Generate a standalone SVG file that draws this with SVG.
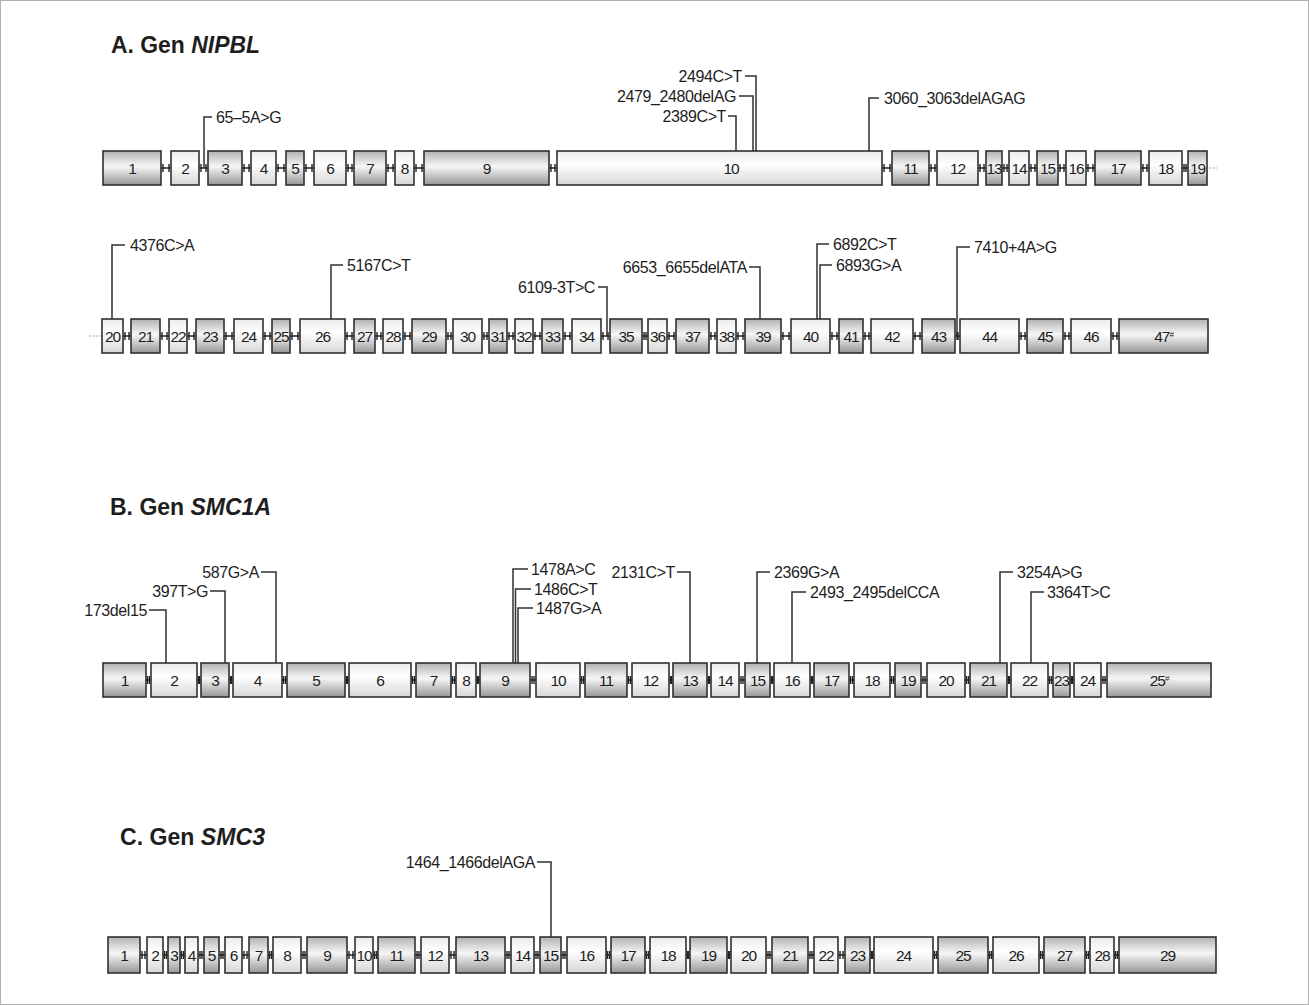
<svg xmlns="http://www.w3.org/2000/svg" width="1309" height="1005" viewBox="0 0 1309 1005">
<defs>
<linearGradient id="gd" x1="0" y1="0" x2="0" y2="1">
<stop offset="0" stop-color="#b2b2b2"/><stop offset="0.45" stop-color="#f6f6f6"/><stop offset="1" stop-color="#979797"/>
</linearGradient>
<linearGradient id="gl" x1="0" y1="0" x2="0" y2="1">
<stop offset="0" stop-color="#ebebeb"/><stop offset="0.4" stop-color="#ffffff"/><stop offset="1" stop-color="#d6d6d6"/>
</linearGradient>
</defs>
<style>
text{font-family:"Liberation Sans",Arial,sans-serif;fill:#1e1e1e}
.ex rect{stroke:#303030;stroke-width:1.6}
.d rect{fill:url(#gd)}
.l rect{fill:url(#gl)}
.ex text{font-size:15.5px;text-anchor:middle;letter-spacing:-1px}
.m text{font-size:16px;letter-spacing:-0.4px}
.m .e{text-anchor:end}
.t{font-size:24px;font-weight:bold}
.ln{stroke:#303030;stroke-width:1.5;fill:none}
.in{stroke:#222;stroke-width:1.4;fill:none}
.cont{stroke:#aaa;stroke-width:1;stroke-dasharray:2 1.5;fill:none}
</style>
<rect x="0.5" y="0.5" width="1308" height="1004" fill="#fff" stroke="#b0b0b0" stroke-width="1"/>

<g id="titles">
<text id="title-a" class="t" x="111" y="53" textLength="149" lengthAdjust="spacingAndGlyphs">A. Gen <tspan font-style="italic">NIPBL</tspan></text>
<text id="title-b" class="t" x="110" y="515" textLength="161" lengthAdjust="spacingAndGlyphs">B. Gen <tspan font-style="italic">SMC1A</tspan></text>
<text id="title-c" class="t" x="120" y="845" textLength="145" lengthAdjust="spacingAndGlyphs">C. Gen <tspan font-style="italic">SMC3</tspan></text>
</g>

<g id="connectors">
<path class="in" d="M161 168H171M163 164v8M169 164v8M199 168H208M201 164v8M206 164v8M242 168H251M244 164v8M249 164v8M276 168H286M278 164v8M284 164v8M304 168H314M306 164v8M312 164v8M346 168H354M348 164v8M352 164v8M386 168H395M388 164v8M393 164v8M414 168H424M416 164v8M422 164v8M549 168H557M551 164v8M555 164v8M882 168H892M884 164v8M890 164v8M929 168H937M931 164v8M935 164v8M978 168H986M980 164v8M984 164v8M1002 168H1009M1004 164v8M1007 164v8M1029 168H1037M1031 164v8M1035 164v8M1058 168H1066M1060 164v8M1064 164v8M1086 168H1095M1088 164v8M1093 164v8M1141 168H1149M1143 164v8M1147 164v8M1182 168H1188M1184 164v8M1186 164v8"/>
<path class="cont" d="M1209 168H1217M89 336H101"/>
<path class="in" d="M123 336H131M125 332v8M129 332v8M160 336H169M162 332v8M167 332v8M187 336H196M189 332v8M194 332v8M224 336H234M226 332v8M232 332v8M263 336H272M265 332v8M270 332v8M290 336H300M292 332v8M298 332v8M345 336H354M347 332v8M352 332v8M375 336H383M377 332v8M381 332v8M403 336H412M405 332v8M410 332v8M446 336H453M448 332v8M451 332v8M482 336H489M484 332v8M487 332v8M507 336H515M509 332v8M513 332v8M533 336H542M535 332v8M540 332v8M563 336H572M565 332v8M570 332v8M601 336H610M603 332v8M608 332v8M642 336H648M644 332v8M646 332v8M667 336H676M669 332v8M674 332v8M709 336H717M711 332v8M715 332v8M736 336H745M738 332v8M743 332v8M781 336H791M783 332v8M789 332v8M830 336H839M832 332v8M837 332v8M863 336H871M865 332v8M869 332v8M913 336H922M915 332v8M920 332v8M955 336H960M957 332v8M958 332v8M1019 336H1027M1021 332v8M1025 332v8M1063 336H1071M1065 332v8M1069 332v8M1111 336H1119M1113 332v8M1117 332v8"/>
<path class="in" d="M146 680H151M147.5 676v8M149.5 676v8M197 680H201M198.5 676v8M199.5 676v8M229 680H233M230.5 676v8M231.5 676v8M282 680H287M283.5 676v8M285.5 676v8M345 680H349M346.5 676v8M347.5 676v8M411 680H416M412.5 676v8M414.5 676v8M451 680H456M452.5 676v8M454.5 676v8M476 680H480M477.5 676v8M478.5 676v8M530 680H536M532 676v8M534 676v8M580 680H585M581.5 676v8M583.5 676v8M627 680H632M628.5 676v8M630.5 676v8M669 680H673M670.5 676v8M671.5 676v8M707 680H711M708.5 676v8M709.5 676v8M739 680H745M741 676v8M743 676v8M770 680H774M771.5 676v8M772.5 676v8M810 680H814M811.5 676v8M812.5 676v8M849 680H854M850.5 676v8M852.5 676v8M890 680H895M891.5 676v8M893.5 676v8M921 680H927M923 676v8M925 676v8M965 680H970M966.5 676v8M968.5 676v8M1007 680H1011M1008.5 676v8M1009.5 676v8M1048 680H1053M1049.5 676v8M1051.5 676v8M1070 680H1074M1071.5 676v8M1072.5 676v8M1101 680H1107M1103 676v8M1105 676v8"/>
<path class="in" d="M140 955H147M142 951v8M145 951v8M163 955H168M164.5 951v8M166.5 951v8M180 955H185M181.5 951v8M183.5 951v8M198 955H204M200 951v8M202 951v8M219 955H225M221 951v8M223 951v8M242 955H249M244 951v8M247 951v8M268 955H273M269.5 951v8M271.5 951v8M301 955H307M303 951v8M305 951v8M347 955H355M349 951v8M353 951v8M373 955H378M374.5 951v8M376.5 951v8M415 955H421M417 951v8M419 951v8M449 955H456M451 951v8M454 951v8M505 955H511M507 951v8M509 951v8M534 955H540M536 951v8M538 951v8M561 955H567M563 951v8M565 951v8M606 955H611M607.5 951v8M609.5 951v8M645 955H650M646.5 951v8M648.5 951v8M686 955H690M687.5 951v8M688.5 951v8M727 955H731M728.5 951v8M729.5 951v8M766 955H772M768 951v8M770 951v8M808 955H814M810 951v8M812 951v8M838 955H845M840 951v8M843 951v8M870 955H874M871.5 951v8M872.5 951v8M933 955H938M934.5 951v8M936.5 951v8M988 955H993M989.5 951v8M991.5 951v8M1039 955H1044M1040.5 951v8M1042.5 951v8M1085 955H1090M1086.5 951v8M1088.5 951v8M1114 955H1119M1115.5 951v8M1117.5 951v8"/>
<path class="ln" d="M212 117H204V168M745 76H756V151M739 96H753V151M728 116H736V151M879 98H869V151"/>
<path class="ln" d="M125 245H112V319M343 265H331V319M598 287H607V336M749 267H760V319M829 244H817V319M832 265H820V319M970 247H957V336"/>
<path class="ln" d="M149 610H166V663M210 591H225V663M261 572H276V663M528 569H513V663M531 589H515.5V663M533 608H518V663M677 572H690V663M770 572H757V663M806 592H792V663M1013 572H1000V663M1044 592H1031V663"/>
<path class="ln" d="M537 862H551V937"/>
</g>

<g id="mutations" class="m">
<g id="m-65-5AG"><text x="216" y="123">65–5A&gt;G</text></g>
<g id="m-2494CT"><text class="e" x="742" y="82">2494C&gt;T</text></g>
<g id="m-2479"><text class="e" x="736" y="102">2479_2480delAG</text></g>
<g id="m-2389CT"><text class="e" x="726" y="122">2389C&gt;T</text></g>
<g id="m-3060"><text x="884" y="104">3060_3063delAGAG</text></g>
<g id="m-4376CA"><text x="130" y="251">4376C&gt;A</text></g>
<g id="m-5167CT"><text x="347" y="271">5167C&gt;T</text></g>
<g id="m-6109"><text class="e" x="595" y="293">6109-3T&gt;C</text></g>
<g id="m-6653"><text class="e" x="747" y="273">6653_6655delATA</text></g>
<g id="m-6892CT"><text x="833" y="250">6892C&gt;T</text></g>
<g id="m-6893GA"><text x="836" y="271">6893G&gt;A</text></g>
<g id="m-7410"><text x="974" y="253">7410+4A&gt;G</text></g>
<g id="m-173del15"><text class="e" x="147" y="616">173del15</text></g>
<g id="m-397TG"><text class="e" x="208" y="597">397T&gt;G</text></g>
<g id="m-587GA"><text class="e" x="259" y="578">587G&gt;A</text></g>
<g id="m-1478AC"><text x="531" y="575">1478A&gt;C</text></g>
<g id="m-1486CT"><text x="534" y="595">1486C&gt;T</text></g>
<g id="m-1487GA"><text x="536" y="614">1487G&gt;A</text></g>
<g id="m-2131CT"><text class="e" x="675" y="578">2131C&gt;T</text></g>
<g id="m-2369GA"><text x="774" y="578">2369G&gt;A</text></g>
<g id="m-2493"><text x="810" y="598">2493_2495delCCA</text></g>
<g id="m-3254AG"><text x="1017" y="578">3254A&gt;G</text></g>
<g id="m-3364TC"><text x="1047" y="598">3364T&gt;C</text></g>
<g id="m-1464"><text class="e" x="535" y="868">1464_1466delAGA</text></g>
</g>

<g id="nipbl">
<g id="a1" class="ex d"><rect x="103" y="151" width="58" height="34"/><text x="132" y="173.5">1</text></g>
<g id="a2" class="ex l"><rect x="171" y="151" width="28" height="34"/><text x="185" y="173.5">2</text></g>
<g id="a3" class="ex d"><rect x="208" y="151" width="34" height="34"/><text x="225" y="173.5">3</text></g>
<g id="a4" class="ex l"><rect x="251" y="151" width="25" height="34"/><text x="263.5" y="173.5">4</text></g>
<g id="a5" class="ex d"><rect x="286" y="151" width="18" height="34"/><text x="295" y="173.5">5</text></g>
<g id="a6" class="ex l"><rect x="314" y="151" width="32" height="34"/><text x="330" y="173.5">6</text></g>
<g id="a7" class="ex d"><rect x="354" y="151" width="32" height="34"/><text x="370" y="173.5">7</text></g>
<g id="a8" class="ex l"><rect x="395" y="151" width="19" height="34"/><text x="404.5" y="173.5">8</text></g>
<g id="a9" class="ex d"><rect x="424" y="151" width="125" height="34"/><text x="486.5" y="173.5">9</text></g>
<g id="a10" class="ex l"><rect x="557" y="151" width="325" height="34"/><text x="731" y="173.5">10</text></g>
<g id="a11" class="ex d"><rect x="892" y="151" width="37" height="34"/><text x="910.5" y="173.5">11</text></g>
<g id="a12" class="ex l"><rect x="937" y="151" width="41" height="34"/><text x="957.5" y="173.5">12</text></g>
<g id="a13" class="ex d"><rect x="986" y="151" width="16" height="34"/><text x="994" y="173.5">13</text></g>
<g id="a14" class="ex l"><rect x="1009" y="151" width="20" height="34"/><text x="1019" y="173.5">14</text></g>
<g id="a15" class="ex d"><rect x="1037" y="151" width="21" height="34"/><text x="1047.5" y="173.5">15</text></g>
<g id="a16" class="ex l"><rect x="1066" y="151" width="20" height="34"/><text x="1076" y="173.5">16</text></g>
<g id="a17" class="ex d"><rect x="1095" y="151" width="46" height="34"/><text x="1118" y="173.5">17</text></g>
<g id="a18" class="ex l"><rect x="1149" y="151" width="33" height="34"/><text x="1165.5" y="173.5">18</text></g>
<g id="a19" class="ex d"><rect x="1188" y="151" width="19" height="34"/><text x="1197.5" y="173.5">19</text></g>
<g id="a20" class="ex l"><rect x="102" y="319" width="21" height="34"/><text x="112.5" y="341.5">20</text></g>
<g id="a21" class="ex d"><rect x="131" y="319" width="29" height="34"/><text x="145.5" y="341.5">21</text></g>
<g id="a22" class="ex l"><rect x="169" y="319" width="18" height="34"/><text x="178" y="341.5">22</text></g>
<g id="a23" class="ex d"><rect x="196" y="319" width="28" height="34"/><text x="210" y="341.5">23</text></g>
<g id="a24" class="ex l"><rect x="234" y="319" width="29" height="34"/><text x="248.5" y="341.5">24</text></g>
<g id="a25" class="ex d"><rect x="272" y="319" width="18" height="34"/><text x="281" y="341.5">25</text></g>
<g id="a26" class="ex l"><rect x="300" y="319" width="45" height="34"/><text x="322.5" y="341.5">26</text></g>
<g id="a27" class="ex d"><rect x="354" y="319" width="21" height="34"/><text x="364.5" y="341.5">27</text></g>
<g id="a28" class="ex l"><rect x="383" y="319" width="20" height="34"/><text x="393" y="341.5">28</text></g>
<g id="a29" class="ex d"><rect x="412" y="319" width="34" height="34"/><text x="429" y="341.5">29</text></g>
<g id="a30" class="ex l"><rect x="453" y="319" width="29" height="34"/><text x="467.5" y="341.5">30</text></g>
<g id="a31" class="ex d"><rect x="489" y="319" width="18" height="34"/><text x="498" y="341.5">31</text></g>
<g id="a32" class="ex l"><rect x="515" y="319" width="18" height="34"/><text x="524" y="341.5">32</text></g>
<g id="a33" class="ex d"><rect x="542" y="319" width="21" height="34"/><text x="552.5" y="341.5">33</text></g>
<g id="a34" class="ex l"><rect x="572" y="319" width="29" height="34"/><text x="586.5" y="341.5">34</text></g>
<g id="a35" class="ex d"><rect x="610" y="319" width="32" height="34"/><text x="626" y="341.5">35</text></g>
<g id="a36" class="ex l"><rect x="648" y="319" width="19" height="34"/><text x="657.5" y="341.5">36</text></g>
<g id="a37" class="ex d"><rect x="676" y="319" width="33" height="34"/><text x="692.5" y="341.5">37</text></g>
<g id="a38" class="ex l"><rect x="717" y="319" width="19" height="34"/><text x="726.5" y="341.5">38</text></g>
<g id="a39" class="ex d"><rect x="745" y="319" width="36" height="34"/><text x="763" y="341.5">39</text></g>
<g id="a40" class="ex l"><rect x="791" y="319" width="39" height="34"/><text x="810.5" y="341.5">40</text></g>
<g id="a41" class="ex d"><rect x="839" y="319" width="24" height="34"/><text x="851" y="341.5">41</text></g>
<g id="a42" class="ex l"><rect x="871" y="319" width="42" height="34"/><text x="892" y="341.5">42</text></g>
<g id="a43" class="ex d"><rect x="922" y="319" width="33" height="34"/><text x="938.5" y="341.5">43</text></g>
<g id="a44" class="ex l"><rect x="960" y="319" width="59" height="34"/><text x="989.5" y="341.5">44</text></g>
<g id="a45" class="ex d"><rect x="1027" y="319" width="36" height="34"/><text x="1045" y="341.5">45</text></g>
<g id="a46" class="ex l"><rect x="1071" y="319" width="40" height="34"/><text x="1091" y="341.5">46</text></g>
<g id="a47" class="ex d"><rect x="1119" y="319" width="89" height="34"/><text x="1163.5" y="341.5">47<tspan font-size="8" dy="-5">#</tspan></text></g>
</g>

<g id="smc1a">
<g id="b1" class="ex d"><rect x="103" y="663" width="43" height="34"/><text x="124.5" y="685.5">1</text></g>
<g id="b2" class="ex l"><rect x="151" y="663" width="46" height="34"/><text x="174" y="685.5">2</text></g>
<g id="b3" class="ex d"><rect x="201" y="663" width="28" height="34"/><text x="215" y="685.5">3</text></g>
<g id="b4" class="ex l"><rect x="233" y="663" width="49" height="34"/><text x="257.5" y="685.5">4</text></g>
<g id="b5" class="ex d"><rect x="287" y="663" width="58" height="34"/><text x="316" y="685.5">5</text></g>
<g id="b6" class="ex l"><rect x="349" y="663" width="62" height="34"/><text x="380" y="685.5">6</text></g>
<g id="b7" class="ex d"><rect x="416" y="663" width="35" height="34"/><text x="433.5" y="685.5">7</text></g>
<g id="b8" class="ex l"><rect x="456" y="663" width="20" height="34"/><text x="466" y="685.5">8</text></g>
<g id="b9" class="ex d"><rect x="480" y="663" width="50" height="34"/><text x="505" y="685.5">9</text></g>
<g id="b10" class="ex l"><rect x="536" y="663" width="44" height="34"/><text x="558" y="685.5">10</text></g>
<g id="b11" class="ex d"><rect x="585" y="663" width="42" height="34"/><text x="606" y="685.5">11</text></g>
<g id="b12" class="ex l"><rect x="632" y="663" width="37" height="34"/><text x="650.5" y="685.5">12</text></g>
<g id="b13" class="ex d"><rect x="673" y="663" width="34" height="34"/><text x="690" y="685.5">13</text></g>
<g id="b14" class="ex l"><rect x="711" y="663" width="28" height="34"/><text x="725" y="685.5">14</text></g>
<g id="b15" class="ex d"><rect x="745" y="663" width="25" height="34"/><text x="757.5" y="685.5">15</text></g>
<g id="b16" class="ex l"><rect x="774" y="663" width="36" height="34"/><text x="792" y="685.5">16</text></g>
<g id="b17" class="ex d"><rect x="814" y="663" width="35" height="34"/><text x="831.5" y="685.5">17</text></g>
<g id="b18" class="ex l"><rect x="854" y="663" width="36" height="34"/><text x="872" y="685.5">18</text></g>
<g id="b19" class="ex d"><rect x="895" y="663" width="26" height="34"/><text x="908" y="685.5">19</text></g>
<g id="b20" class="ex l"><rect x="927" y="663" width="38" height="34"/><text x="946" y="685.5">20</text></g>
<g id="b21" class="ex d"><rect x="970" y="663" width="37" height="34"/><text x="988.5" y="685.5">21</text></g>
<g id="b22" class="ex l"><rect x="1011" y="663" width="37" height="34"/><text x="1029.5" y="685.5">22</text></g>
<g id="b23" class="ex d"><rect x="1053" y="663" width="17" height="34"/><text x="1061.5" y="685.5">23</text></g>
<g id="b24" class="ex l"><rect x="1074" y="663" width="27" height="34"/><text x="1087.5" y="685.5">24</text></g>
<g id="b25" class="ex d"><rect x="1107" y="663" width="104" height="34"/><text x="1159" y="685.5">25<tspan font-size="8" dy="-5">#</tspan></text></g>
</g>

<g id="smc3">
<g id="c1" class="ex d"><rect x="108" y="937" width="32" height="36"/><text x="124" y="960.5">1</text></g>
<g id="c2" class="ex l"><rect x="147" y="937" width="16" height="36"/><text x="155" y="960.5">2</text></g>
<g id="c3" class="ex d"><rect x="168" y="937" width="12" height="36"/><text x="174" y="960.5">3</text></g>
<g id="c4" class="ex l"><rect x="185" y="937" width="13" height="36"/><text x="191.5" y="960.5">4</text></g>
<g id="c5" class="ex d"><rect x="204" y="937" width="15" height="36"/><text x="211.5" y="960.5">5</text></g>
<g id="c6" class="ex l"><rect x="225" y="937" width="17" height="36"/><text x="233.5" y="960.5">6</text></g>
<g id="c7" class="ex d"><rect x="249" y="937" width="19" height="36"/><text x="258.5" y="960.5">7</text></g>
<g id="c8" class="ex l"><rect x="273" y="937" width="28" height="36"/><text x="287" y="960.5">8</text></g>
<g id="c9" class="ex d"><rect x="307" y="937" width="40" height="36"/><text x="327" y="960.5">9</text></g>
<g id="c10" class="ex l"><rect x="355" y="937" width="18" height="36"/><text x="364" y="960.5">10</text></g>
<g id="c11" class="ex d"><rect x="378" y="937" width="37" height="36"/><text x="396.5" y="960.5">11</text></g>
<g id="c12" class="ex l"><rect x="421" y="937" width="28" height="36"/><text x="435" y="960.5">12</text></g>
<g id="c13" class="ex d"><rect x="456" y="937" width="49" height="36"/><text x="480.5" y="960.5">13</text></g>
<g id="c14" class="ex l"><rect x="511" y="937" width="23" height="36"/><text x="522.5" y="960.5">14</text></g>
<g id="c15" class="ex d"><rect x="540" y="937" width="21" height="36"/><text x="550.5" y="960.5">15</text></g>
<g id="c16" class="ex l"><rect x="567" y="937" width="39" height="36"/><text x="586.5" y="960.5">16</text></g>
<g id="c17" class="ex d"><rect x="611" y="937" width="34" height="36"/><text x="628" y="960.5">17</text></g>
<g id="c18" class="ex l"><rect x="650" y="937" width="36" height="36"/><text x="668" y="960.5">18</text></g>
<g id="c19" class="ex d"><rect x="690" y="937" width="37" height="36"/><text x="708.5" y="960.5">19</text></g>
<g id="c20" class="ex l"><rect x="731" y="937" width="35" height="36"/><text x="748.5" y="960.5">20</text></g>
<g id="c21" class="ex d"><rect x="772" y="937" width="36" height="36"/><text x="790" y="960.5">21</text></g>
<g id="c22" class="ex l"><rect x="814" y="937" width="24" height="36"/><text x="826" y="960.5">22</text></g>
<g id="c23" class="ex d"><rect x="845" y="937" width="25" height="36"/><text x="857.5" y="960.5">23</text></g>
<g id="c24" class="ex l"><rect x="874" y="937" width="59" height="36"/><text x="903.5" y="960.5">24</text></g>
<g id="c25" class="ex d"><rect x="938" y="937" width="50" height="36"/><text x="963" y="960.5">25</text></g>
<g id="c26" class="ex l"><rect x="993" y="937" width="46" height="36"/><text x="1016" y="960.5">26</text></g>
<g id="c27" class="ex d"><rect x="1044" y="937" width="41" height="36"/><text x="1064.5" y="960.5">27</text></g>
<g id="c28" class="ex l"><rect x="1090" y="937" width="24" height="36"/><text x="1102" y="960.5">28</text></g>
<g id="c29" class="ex d"><rect x="1119" y="937" width="97" height="36"/><text x="1167.5" y="960.5">29</text></g>
</g>
</svg>
